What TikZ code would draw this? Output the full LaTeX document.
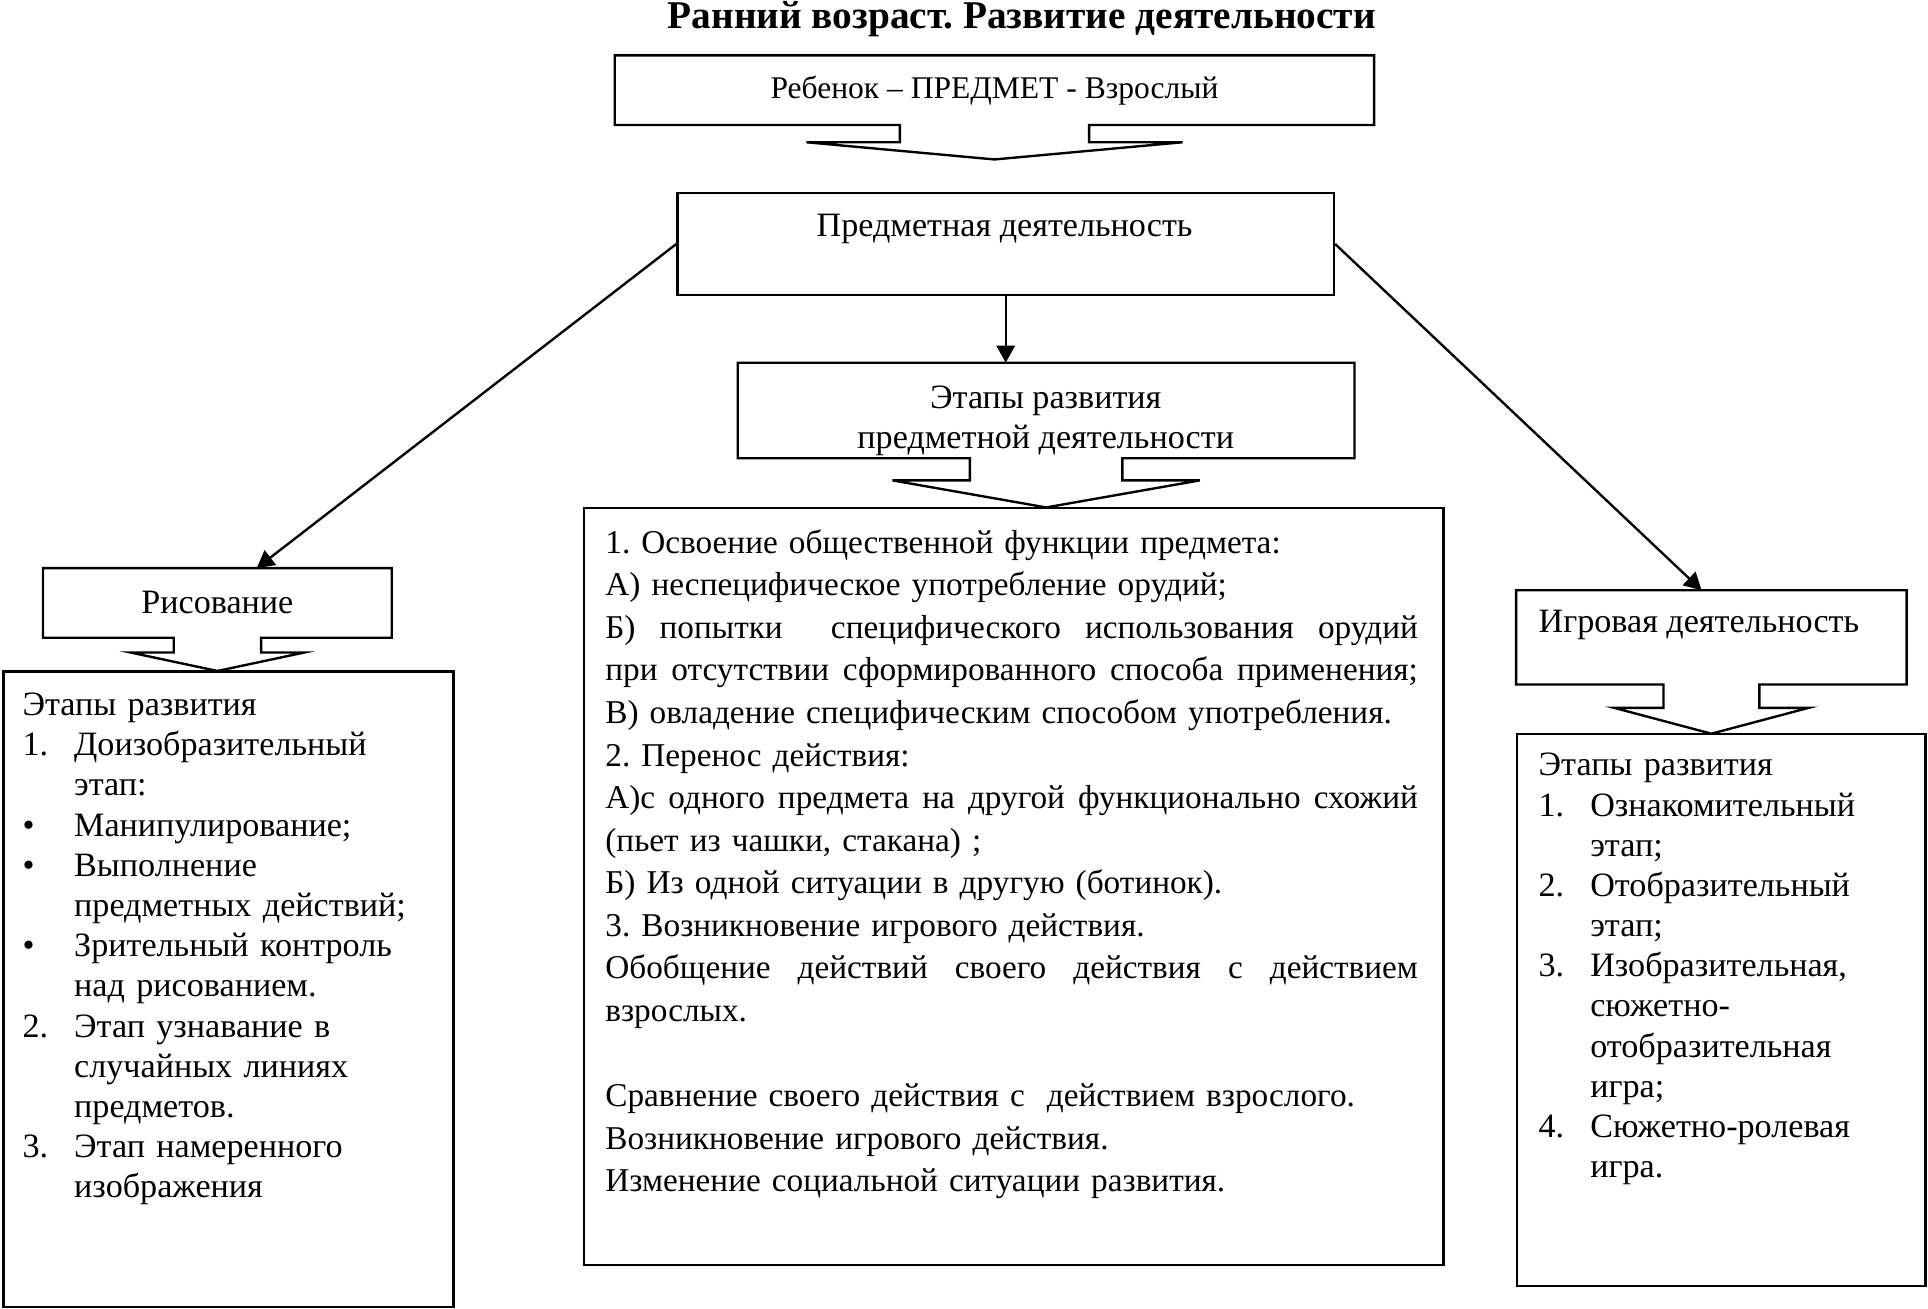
\documentclass[tikz,border=0pt]{standalone}
\usepackage{fontspec}
\setmainfont{Liberation Serif}
\usetikzlibrary{positioning,calc,arrows.meta}

\frenchspacing
\newcommand{\titlesz}{\fontsize{18.2}{22}\selectfont}
\newcommand{\topsz}{\fontsize{14.6}{18}\selectfont}
\newcommand{\mainsz}{\fontsize{15.4}{19.7}\selectfont}
\newcommand{\sidesz}{\fontsize{15.8}{18.6}\selectfont}
\newcommand{\stg}[1]{\makebox[0.84cm][l]{#1}}
\newcommand{\jline}[1]{{\spaceskip=0pt\xspaceskip=0pt\makebox[13.22cm][s]{#1}}}
% box with a wide arrow under it: node, shaft, head, shaft length, head length
\newcommand{\callout}[5]{%
  \draw[line width=1.1pt] (#1.north west) -- (#1.north east) -- (#1.south east)
    -- ($(#1.south)+(#2,0)$) -- ($(#1.south)+(#2,#4)$) -- ($(#1.south)+(#3,#4)$)
    -- ($(#1.south)+(0,#4+#5)$) -- ($(#1.south)+(-#3,#4)$) -- ($(#1.south)+(-#2,#4)$)
    -- ($(#1.south)+(-#2,0)$) -- (#1.south west) -- cycle;}

\begin{document}
\begin{tikzpicture}[x=0.02cm,y=-0.02cm,
    box/.style={draw,line width=1.1pt,inner sep=0pt,anchor=north west},
    cbox/.style={inner sep=0pt,anchor=north west,align=center,font=\sidesz},
    txt/.style={inner sep=0pt,font=\sidesz},
    lst/.style={inner sep=0pt,anchor=base west,align=left},
    link/.style={line width=1.1pt,-{Triangle[length=0.28cm,width=0.3cm]}}]
    \useasboundingbox (0,0) rectangle (1568,1064);
    % title
    \node[txt,font=\titlesz\bfseries,anchor=base] (title) at (831,23) {Ранний возраст. Развитие деятельности};
    % top
    \node[cbox,font=\topsz,minimum width=12.34cm,minimum height=1.12cm] (child) at (500,45) {Ребенок – ПРЕДМЕТ - Взрослый};
    \callout{child}{77}{153}{14}{14}
    \node[box,minimum width=10.68cm,minimum height=1.66cm] (objact) at (550,156) {};
    \node[txt,anchor=base] (objtxt) at (817,192) {Предметная деятельность};
    % middle column
    \node[cbox,minimum width=10.02cm,minimum height=1.54cm] (stages) at (600,295) {};
    \node[txt,align=center] (stgtxt) at (850.5,342) {Этапы развития\\предметной деятельности};
    \callout{stages}{62}{125}{18}{22}
    \node[box,minimum width=13.98cm,minimum height=12.32cm] (stlist) at (474,412) {};
    \node[lst,font=\mainsz,text width=13.22cm] (sttxt) at (492,450) {%
        1. Освоение общественной функции предмета:\\
        А) неспецифическое употребление орудий;\\
        \jline{Б) попытки \ специфического использования орудий}\\
        \jline{при отсутствии сформированного способа применения;}\\
        В) овладение специфическим способом употребления.\\
        2. Перенос действия:\\
        \jline{А)с одного предмета на другой функционально схожий}\\
        (пьет из чашки, стакана) ;\\
        Б) Из одной ситуации в другую (ботинок).\\
        3. Возникновение игрового действия.\\
        \jline{Обобщение действий своего действия с действием}\\
        взрослых.\\
        \mbox{}\\
        Сравнение своего действия с \ действием взрослого.\\
        Возникновение игрового действия.\\
        Изменение социальной ситуации развития.};
    % left column
    \node[cbox,minimum width=5.66cm,minimum height=1.12cm] (drw) at (35,462) {Рисование};
    \callout{drw}{35.5}{70.5}{12}{15}
    \node[box,minimum width=7.32cm,minimum height=10.34cm] (drwlist) at (2,545) {};
    \node[lst,font=\sidesz,text width=6.9cm] (drwtxt) at (18,582) {%
        Этапы развития\\
        \stg{1.}Доизобразительный\\
        \stg{}этап:\\
        \stg{•}Манипулирование;\\
        \stg{•}Выполнение\\
        \stg{}предметных действий;\\
        \stg{•}Зрительный контроль\\
        \stg{}над рисованием.\\
        \stg{2.}Этап узнавание в\\
        \stg{}случайных линиях\\
        \stg{}предметов.\\
        \stg{3.}Этап намеренного\\
        \stg{}изображения};
    % right column
    \node[cbox,minimum width=6.34cm,minimum height=1.52cm] (play) at (1233,480) {};
    \node[txt,anchor=base west] (playtxt) at (1251,514) {Игровая деятельность};
    \callout{play}{39}{79}{19}{21}
    \node[box,minimum width=6.64cm,minimum height=8.98cm] (playlist) at (1233,596) {};
    \node[lst,font=\sidesz,text width=6.2cm] (plsttxt) at (1251,631) {%
        Этапы развития\\
        \stg{1.}Ознакомительный\\
        \stg{}этап;\\
        \stg{2.}Отобразительный\\
        \stg{}этап;\\
        \stg{3.}Изобразительная,\\
        \stg{}сюжетно-\\
        \stg{}отобразительная\\
        \stg{}игра;\\
        \stg{4.}Сюжетно-ролевая\\
        \stg{}игра.};
    % links
    \draw[link] (objact.south) -- (objact.south |- stages.north);
    \draw[link] (objact.west) -- ($(drw.north)+(32,0)$);
    \draw[link] (objact.east) -- ($(play.north)+(-8,0)$);
\end{tikzpicture}
\end{document}
